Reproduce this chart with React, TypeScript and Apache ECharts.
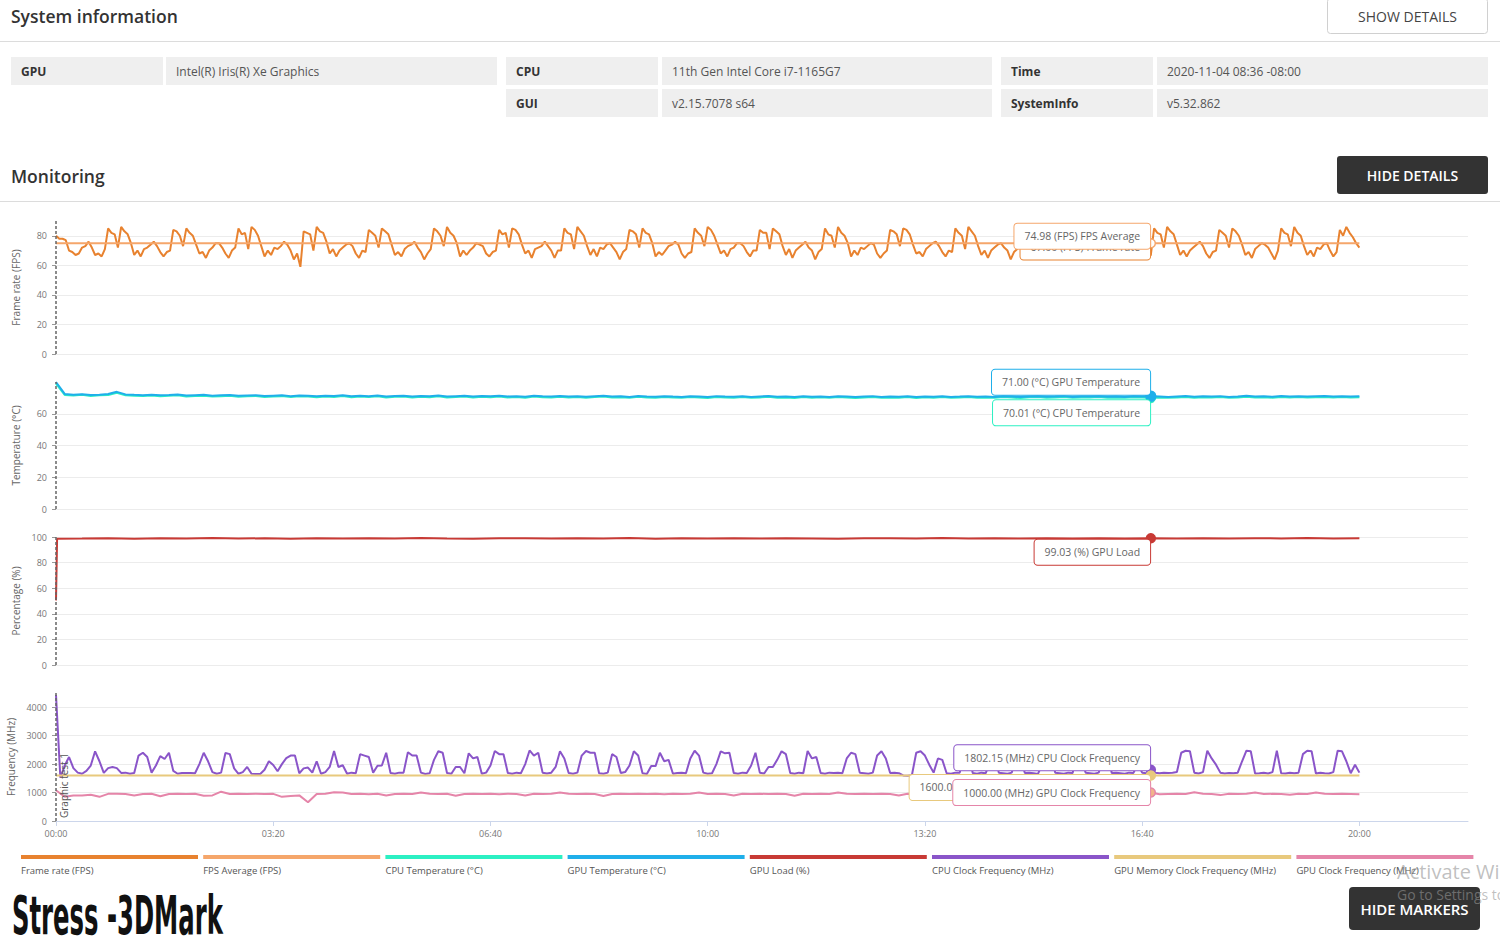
import React, { useEffect, useRef } from 'react';
import * as echarts from 'echarts';

// ---- recording layout -------------------------------------------------
const RUN_LENGTH = 1200; // seconds logged (00:00 - 20:00)
const AXIS_END = 1300;
const CURSOR_TIME = 1008; // time of the hover readout

const timeTicks = [0, 200, 400, 600, 800, 1000, 1200];
const fpsTicks = [0, 20, 40, 60, 80];
const tempTicks = [0, 20, 40, 60];
const pctTicks = [0, 20, 40, 60, 80, 100];
const freqTicks = [0, 1000, 2000, 3000, 4000];

// ---- Frame rate (FPS), one sample every 3 s -------------------------------
const FPS_STEP = 3;
const frameRate = [
  80, 78, 78, 77, 70, 69, 67, 68, 72, 73, 76, 72, 67, 68, 66,
  71, 85, 82, 81, 72, 86, 83, 81, 75, 67, 70, 66, 71, 72, 74, 76, 73, 69, 66, 69,
  70, 84, 83, 80, 73, 85, 82, 80, 74, 68, 69, 65, 70, 72, 75, 75, 72, 68, 65, 70,
  72, 85, 81, 82, 71, 86, 84, 80, 73, 66, 70, 67, 72, 71, 73, 76, 74, 70, 64, 68,
  59, 83, 82, 81, 70, 86, 83, 82, 76, 68, 71, 66, 70, 72, 74, 75, 73, 68, 65, 70,
  69, 84, 82, 80, 72, 85, 83, 81, 74, 67, 69, 66, 71, 73, 74, 76, 72, 69, 64, 68,
  71, 85, 83, 80, 73, 86, 82, 80, 75, 66, 70, 67, 70, 72, 75, 74, 73, 68, 66, 69,
  70, 84, 81, 82, 72, 85, 84, 81, 74, 68, 70, 65, 71, 72, 73, 76, 73, 70, 65, 70,
  70, 85, 82, 81, 71, 86, 83, 80, 73, 67, 71, 66, 72, 71, 74, 75, 72, 69, 64, 69,
  71, 84, 83, 81, 72, 85, 82, 81, 75, 66, 69, 67, 70, 73, 74, 76, 74, 68, 65, 68,
  69, 85, 82, 80, 73, 86, 84, 80, 74, 68, 70, 66, 71, 72, 75, 75, 73, 69, 66, 70,
  70, 84, 82, 82, 71, 85, 83, 81, 73, 67, 71, 65, 70, 72, 74, 76, 72, 70, 64, 69,
  71, 85, 81, 80, 72, 86, 82, 80, 75, 66, 70, 67, 72, 71, 73, 75, 74, 68, 65, 68,
  70, 84, 83, 81, 73, 85, 84, 81, 74, 68, 69, 66, 71, 73, 75, 76, 73, 69, 66, 70,
  69, 85, 82, 80, 71, 86, 83, 80, 73, 67, 70, 65, 70, 72, 74, 75, 72, 70, 64, 69,
  71, 84, 82, 82, 72, 85, 82, 81, 75, 66, 71, 67, 72, 71, 73, 76, 74, 68, 65, 68,
  70, 85, 83, 80, 73, 86, 84, 80, 74, 68, 69, 66, 71, 72, 75, 75, 73, 69, 65, 69,
  66,
  67, 85, 82, 81, 72, 86, 83, 81, 74, 67, 70, 66, 70, 72, 74, 76, 73, 68, 65, 69,
  70, 84, 82, 80, 72, 85, 83, 80, 74, 67, 69, 65, 71, 73, 75, 74, 72, 68, 64,
  70, 85, 82, 81, 73, 86, 82, 80, 73, 67, 70, 66, 72, 71, 74, 75, 70, 66,
  69, 84, 80, 86, 82, 79, 75, 72,
];
const fpsAverage = 74.98;

// ---- Temperatures (°C), one sample every 8 s ------------------------------
const TEMP_STEP = 8;
const gpuTemperature = [
  80, 72.5, 72, 72.3, 71.8, 72, 72.4, 73.8, 72.2, 71.9,
  71.7, 72, 71.6, 71.8, 72.1, 71.5, 71.7, 71.9, 71.4, 71.6,
  71.8, 71.3, 71.5, 71.7, 71.2, 71.4, 71.6, 71.1, 71.5, 71.3,
  71.0, 71.4, 71.2, 71.6, 71.0, 71.3, 71.1, 71.5, 70.9, 71.2,
  71.4, 70.8, 71.2, 71.0, 71.5, 70.9, 71.1, 71.3, 70.8, 71.2,
  71.0, 71.4, 70.9, 71.1, 70.7, 71.3, 71.0, 70.8, 71.2, 70.9,
  71.1, 70.7, 71.0, 71.3, 70.8, 71.0, 70.6, 71.2, 70.9, 70.7,
  71.1, 70.8, 70.6, 71.0, 70.9, 70.5, 71.1, 70.8, 70.7, 71.0,
  70.6, 70.9, 71.2, 70.7, 70.8, 70.5, 71.0, 70.7, 70.9, 70.6,
  71.0, 70.8, 70.5, 70.9, 71.1, 70.6, 70.8, 70.7, 71.0, 70.5,
  70.9, 70.7, 71.0, 70.6, 70.8, 71.1, 70.7, 70.9, 70.6, 71.0,
  70.8, 70.5, 70.9, 71.0, 70.7, 70.8, 71.1, 70.6, 70.9, 70.8,
  71.0, 70.7, 70.9, 70.6, 71.0, 70.8,
  71.0,
  70.8, 70.6, 70.9, 71.2, 70.7, 71.0, 70.8, 71.1, 70.6, 70.9,
  71.3, 70.8, 71.0, 70.7, 71.2, 70.9, 71.1, 70.8, 71.0, 71.2,
  70.9, 71.1, 70.8, 71.0,
];
const cpuTemperature = [
  79, 71.8, 71.5, 71.9, 71.2, 71.6, 71.8, 73.2, 71.6, 71.3,
  71.2, 71.5, 71.0, 71.3, 71.6, 70.9, 71.2, 71.4, 70.8, 71.1,
  71.3, 70.7, 71.0, 71.2, 70.6, 70.9, 71.1, 70.5, 71.0, 70.8,
  70.4, 70.9, 70.6, 71.1, 70.4, 70.8, 70.5, 71.0, 70.3, 70.7,
  70.9, 70.2, 70.7, 70.4, 71.0, 70.3, 70.6, 70.8, 70.2, 70.7,
  70.4, 70.9, 70.3, 70.6, 70.1, 70.8, 70.4, 70.2, 70.7, 70.3,
  70.6, 70.1, 70.5, 70.8, 70.2, 70.4, 70.0, 70.7, 70.3, 70.1,
  70.6, 70.2, 70.0, 70.5, 70.3, 69.9, 70.6, 70.2, 70.1, 70.5,
  70.0, 70.3, 70.7, 70.1, 70.2, 69.9, 70.5, 70.1, 70.4, 70.0,
  70.5, 70.2, 69.9, 70.3, 70.6, 70.0, 70.2, 70.1, 70.5, 69.9,
  70.4, 70.1, 70.5, 70.0, 70.2, 70.6, 70.1, 70.3, 70.0, 70.5,
  70.2, 69.9, 70.4, 70.5, 70.1, 70.2, 70.6, 70.0, 70.3, 70.2,
  70.5, 70.1, 70.3, 70.0, 70.4, 70.2,
  70.01,
  70.2, 70.0, 70.3, 70.6, 70.1, 70.4, 70.2, 70.5, 70.0, 70.3,
  70.7, 70.2, 70.4, 70.1, 70.6, 70.3, 70.5, 70.2, 70.4, 70.6,
  70.3, 70.5, 70.2, 70.4,
];

// ---- GPU Load (%) -----------------------------------------------------------
const gpuLoadRampTimes = [0, 1];
const gpuLoadRamp = [50.5, 98.6];
const LOAD_STEP = 24; // regular samples from 24 s on
const gpuLoad = [
  98.8, 99.1, 98.7, 99.0, 98.9, 99.2, 98.8, 99.0, 98.7, 99.1,
  98.9, 99.0, 98.8, 99.2, 98.9, 98.7, 99.0, 99.1, 98.8, 99.0,
  98.9, 99.2, 98.7, 99.0, 98.9, 99.1, 98.8, 99.0, 98.9, 98.7,
  99.1, 99.0, 98.8, 99.2, 98.9, 99.0, 98.8, 99.1, 98.9, 99.0,
  98.8, 99.03, 98.9, 99.1, 98.8, 99.0, 98.9, 99.2, 98.8, 99.0,
];

// ---- Clock frequencies (MHz) ----------------------------------------------
const CPU_CLOCK_STEP = 4;
const cpuClock = [
  4430, 1520, 1950, 2250, 1860, 1700, 1660, 1760, 1950, 2450,
  2100, 1690, 1860, 1900, 1860, 1690, 1700, 1660, 1690, 2300,
  2400, 2250, 1700, 1950, 2280, 2180, 2400, 1760, 1660, 1690,
  1690, 1690, 1680, 2000, 2400, 2100, 1720, 1660, 1700, 2390,
  2350, 1850, 1660, 1720, 1900, 1660, 1650, 1650, 1800, 2100,
  1970, 1750, 2000, 2210, 2300, 2300, 1680, 1850, 1880, 1700,
  2100, 1660, 1720, 1900, 2460, 1900, 1960, 1660,
  1700, 1680, 2350, 2300, 2250, 1700, 1940, 1950, 2400, 1690,
  1660, 1700, 1700, 2420, 2300, 2300, 1700, 1650, 1680, 2150,
  2450, 2400, 1690, 1660, 1900, 1900, 1680, 2380, 2200, 2250,
  1660, 1700, 1950, 2460, 2350, 2350, 1690, 1660, 1700, 1680,
  2000, 2480, 2300, 2400, 1700, 1670, 1700, 1900, 2450, 2200,
  1690, 1660, 1700, 2300, 2460, 2400, 2400, 1680, 1660, 1700,
  2350, 2250, 1690, 1720, 1950, 2450, 2300, 1680, 1650, 1930,
  1930, 2400, 2100, 2150, 1660, 1690, 1700, 1680, 2200, 2470,
  2300, 1700, 1660, 1680, 2000, 2450, 2380, 2400, 1690, 1660,
  1700, 1690, 1950, 2400, 1700, 1670, 1900, 1900, 2150, 2450,
  2350, 1690, 1660, 1700, 1680, 2460, 2200, 2250, 1690, 1660,
  1700, 1690,
  1700, 1680, 2200, 2400, 2350, 1700, 1680, 1660, 1700, 2300,
  2450, 2200, 1690, 1700, 1680, 1600, 1590, 1610, 2400, 2450,
  2300, 1980, 1700, 2200, 2150, 1680, 1660, 1700,
  1700, 2300, 2450, 1690, 1660, 1700, 1680, 2100, 2400, 1700,
  1680, 1660, 1700, 2350, 2200, 1690, 1700, 1680, 1650, 2000,
  2450, 2300, 1700, 1680, 1660, 1700, 1690, 2400, 2150, 1700,
  1680, 1660, 1700, 2250, 2450, 1690, 1700, 1680, 1660, 1700,
  1690, 2000, 1700, 1680,
  1802.15,
  1700, 1680, 1700, 1690, 1700, 1720, 2400, 2470, 2450, 1700,
  1670, 1720, 2470, 2200, 1980, 1700, 1670, 1690, 1680, 1700,
  2100, 2470, 2450, 1670, 1680, 1700, 1670, 1720, 2470, 1680,
  1670, 1700, 1680, 1700, 2350, 2470, 2450, 1670, 1700, 1680,
  1670, 1720, 2470, 2450, 2100, 1680, 1980, 1700,
];

const GPU_MEM_STEP = 48;
const gpuMemoryClock = [
  1600, 1600, 1600, 1600, 1600, 1600, 1600, 1600, 1600, 1600, 1600, 1600, 1600,
  1600, 1600, 1600, 1600, 1600, 1600, 1600, 1600, 1600, 1600, 1600, 1600, 1600,
];

const GPU_CLOCK_STEP = 8;
const gpuClock = [
  1080, 850, 900, 900, 920, 850, 955, 955, 950, 900,
  950, 955, 870, 950, 955, 950, 955, 890, 900, 1030,
  950, 955, 950, 955, 950, 955, 850, 880, 900, 660,
  950, 955, 1010, 1000,
  950, 955, 940, 955, 900, 950, 955, 950, 1000, 955,
  950, 955, 890, 950, 955, 950, 955, 940, 955, 950,
  900, 955, 950, 955, 1000, 955, 950, 955, 950, 880,
  950, 955, 950, 955, 950, 955, 940, 955, 950, 955,
  1000, 950, 955, 950, 900, 955, 950, 955, 950, 955,
  950, 890, 955, 950, 955, 950, 1000, 955, 950, 955,
  950, 955, 950, 900, 955, 950, 955, 950, 955, 950,
  955, 1000, 950, 955, 950, 880, 955, 950, 955, 950,
  955, 950, 955, 950, 1000, 955, 950, 955, 950, 955,
  950, 955,
  1000,
  940, 950, 955, 950, 1010, 955, 950, 910, 955, 950,
  955, 1000, 950, 955, 950, 920, 955, 950, 1000, 955,
  950, 955, 950, 940,
];

// ---- legend -----------------------------------------------------------------
const legendNames = [
  'Frame rate (FPS)', 'FPS Average (FPS)', 'CPU Temperature (°C)', 'GPU Temperature (°C)',
  'GPU Load (%)', 'CPU Clock Frequency (MHz)', 'GPU Memory Clock Frequency (MHz)', 'GPU Clock Frequency (MHz)',
];
const legendColors = ['#e8822f', '#f5a66b', '#2cf0c3', '#1fafea', '#c83a35', '#8a55c9', '#e8c97d', '#e585a9'];

const FONT = "'Open Sans', 'Noto Sans', sans-serif";

const toPairs = (vals: number[], step: number, start = 0) => vals.map((v, i) => [start + i * step, v]);
const sampleAt = (vals: number[], step: number, t: number, start = 0) => vals[Math.round((t - start) / step)];
const mmss = (v: number) =>
  `${String(Math.floor(v / 60)).padStart(2, '0')}:${String(Math.round(v % 60)).padStart(2, '0')}`;

// hover readout box anchored at the cursor
function readout(value: number, unit: string, label: string, color: string, dy: number, size: number, fill: string) {
  return {
    symbol: 'circle',
    symbolSize: size,
    silent: true,
    itemStyle: { color: fill, borderColor: color, borderWidth: 1.5 },
    label: {
      show: true,
      position: 'left',
      distance: 0,
      offset: [size / 2, dy],
      formatter: () => `${value.toFixed(2)} (${unit}) ${label}`,
      backgroundColor: '#fff',
      borderColor: color,
      borderWidth: 1,
      borderRadius: 3,
      padding: [6, 10, 6, 10],
      color: '#666',
      fontFamily: FONT,
      fontSize: 10.5,
      lineHeight: 13,
    },
    data: [{ coord: [CURSOR_TIME, value], value }],
  };
}

function startMarker(withLabel: boolean) {
  return {
    silent: true,
    symbol: ['none', 'none'],
    lineStyle: { color: '#666', type: [3, 2], width: 1.5 },
    label: withLabel
      ? { show: true, formatter: 'Graphic test 1', position: 'insideStartBottom', color: '#555', fontSize: 10, fontFamily: FONT, distance: 3 }
      : { show: false },
    data: [{ xAxis: 0 }],
  };
}

const panels = [
  { top: 221, height: 133, name: 'Frame rate (FPS)', max: 90, interval: 10, ticks: fpsTicks },
  { top: 382, height: 127, name: 'Temperature (°C)', max: 80, interval: 10, ticks: tempTicks },
  { top: 537, height: 128, name: 'Percentage (%)', max: 100, interval: 10, ticks: pctTicks },
  { top: 693, height: 128, name: 'Frequency (MHz)', max: 4500, interval: 500, ticks: freqTicks },
];

function buildOption() {
  const grid = panels.map((p) => ({ left: 56, right: 32, top: p.top, height: p.height, containLabel: false, outerBoundsMode: 'none' }));
  const xAxis = panels.map((_, i) => ({
    gridIndex: i,
    type: 'value',
    min: 0,
    max: AXIS_END,
    interval: 200,
    show: i === panels.length - 1,
    axisLine: { show: true, lineStyle: { color: '#ccd6eb' } },
    axisTick: { show: true, length: 5, customValues: timeTicks, lineStyle: { color: '#ccd6eb' } },
    axisLabel: { customValues: timeTicks, formatter: mmss, color: '#777', fontSize: 9, fontFamily: FONT, margin: 8 },
    splitLine: { show: false },
  }));
  const yAxis = panels.map((p, i) => ({
    gridIndex: i,
    type: 'value',
    min: 0,
    max: p.max,
    interval: p.interval,
    name: p.name,
    nameLocation: 'middle',
    nameGap: 35,
    nameTextStyle: { color: '#666', fontSize: 10, fontFamily: FONT },
    axisLine: { show: false },
    axisTick: { show: true, length: 4, customValues: p.ticks, lineStyle: { color: '#999' } },
    axisLabel: {
      customValues: p.ticks,
      formatter: (v: number) => String(v),
      color: '#777',
      fontSize: 9,
      fontFamily: FONT,
      margin: 9,
    },
    splitLine: { show: true, lineStyle: { color: '#ececec', width: 1 } },
  }));

  const line = (name: string, color: string, data: number[][], idx: number, width = 2) => ({
    type: 'line',
    name,
    xAxisIndex: idx,
    yAxisIndex: idx,
    data,
    symbol: 'none',
    silent: true,
    lineStyle: { color, width },
    itemStyle: { color },
  });

  const c = legendColors;
  const series: any[] = [
    {
      ...line('Frame rate', c[0], toPairs(frameRate, FPS_STEP), 0),
      markLine: startMarker(false),
      markPoint: readout(sampleAt(frameRate, FPS_STEP, CURSOR_TIME), 'FPS', 'Frame rate', c[0], -8, 0.1, c[0]),
    },
    {
      ...line('FPS Average', c[1], [[0, fpsAverage], [RUN_LENGTH, fpsAverage]], 0),
      markPoint: readout(fpsAverage, 'FPS', 'FPS Average', c[1], -7, 9, '#fff'),
    },
    {
      ...line('CPU Temperature', c[2], toPairs(cpuTemperature, TEMP_STEP), 1),
      markLine: startMarker(false),
      markPoint: readout(sampleAt(cpuTemperature, TEMP_STEP, CURSOR_TIME), '°C', 'CPU Temperature', c[2], 15, 9, c[2]),
    },
    {
      ...line('GPU Temperature', c[3], toPairs(gpuTemperature, TEMP_STEP), 1),
      markPoint: readout(sampleAt(gpuTemperature, TEMP_STEP, CURSOR_TIME), '°C', 'GPU Temperature', c[3], -14, 10, c[3]),
    },
    {
      ...line('GPU Load', c[4], [
        ...gpuLoadRampTimes.map((t, i) => [t, gpuLoadRamp[i]]),
        ...toPairs(gpuLoad, LOAD_STEP, LOAD_STEP),
      ], 2),
      markLine: startMarker(false),
      markPoint: readout(sampleAt(gpuLoad, LOAD_STEP, CURSOR_TIME, LOAD_STEP), '%', 'GPU Load', c[4], 14, 9, c[4]),
    },
    {
      ...line('CPU Clock Frequency', c[5], toPairs(cpuClock, CPU_CLOCK_STEP), 3),
      markLine: startMarker(true),
      markPoint: readout(sampleAt(cpuClock, CPU_CLOCK_STEP, CURSOR_TIME), 'MHz', 'CPU Clock Frequency', c[5], -12, 9, c[5]),
    },
    {
      ...line('GPU Memory Clock Frequency', c[6], toPairs(gpuMemoryClock, GPU_MEM_STEP), 3),
      markPoint: readout(sampleAt(gpuMemoryClock, GPU_MEM_STEP, CURSOR_TIME), 'MHz', 'GPU Memory Clock Frequency', c[6], 12, 9, c[6]),
    },
    {
      ...line('GPU Clock Frequency', c[7], toPairs(gpuClock, GPU_CLOCK_STEP), 3),
      markPoint: readout(sampleAt(gpuClock, GPU_CLOCK_STEP, CURSOR_TIME), 'MHz', 'GPU Clock Frequency', c[7], 0, 9, '#f2b48a'),
    },
  ];

  // page furniture: headings, info table, buttons, legend
  const txt = (text: string, x: number, y: number, font: string, fill: string, align = 'left', extra: any = {}) => ({
    type: 'text',
    x,
    y,
    silent: true,
    ...extra,
    style: { text, font, fill, align, verticalAlign: 'middle', textAlign: align, textVerticalAlign: 'middle' },
  });
  const rect = (x: number, y: number, width: number, height: number, fill: string, r = 0, stroke?: string) => ({
    type: 'rect',
    silent: true,
    shape: { x, y, width, height, r },
    style: stroke ? { fill, stroke, lineWidth: 1 } : { fill },
  });

  const infoCells = [
    { x: 11, w: 152, vx: 166, vw: 331, rows: [['GPU', 'Intel(R) Iris(R) Xe Graphics']] },
    { x: 506, w: 152, vx: 662, vw: 330, rows: [['CPU', '11th Gen Intel Core i7-1165G7'], ['GUI', 'v2.15.7078 s64']] },
    { x: 1001, w: 152, vx: 1157, vw: 331, rows: [['Time', '2020-11-04 08:36 -08:00'], ['SystemInfo', 'v5.32.862']] },
  ];
  const graphic: any[] = [
    txt('System information', 11, 16, `600 17.5px ${FONT}`, '#333'),
    { type: 'line', silent: true, shape: { x1: 0, y1: 41.5, x2: 1500, y2: 41.5 }, style: { stroke: '#dcdcdc', lineWidth: 1 } },
    rect(1327.5, -1.5, 160, 35, '#fff', 3, '#d0d0d0'),
    txt('SHOW DETAILS', 1407.5, 16, `14px ${FONT}`, '#444', 'center'),
    txt('Monitoring', 11, 176, `600 17.5px ${FONT}`, '#333'),
    rect(1337, 156, 151, 38, '#333', 3),
    txt('HIDE DETAILS', 1412.5, 175, `600 14px ${FONT}`, '#fff', 'center'),
    { type: 'line', silent: true, shape: { x1: 0, y1: 201.5, x2: 1500, y2: 201.5 }, style: { stroke: '#dcdcdc', lineWidth: 1 } },
  ];
  infoCells.forEach((col) => {
    col.rows.forEach(([k, v], r) => {
      const y = 57 + r * 32;
      graphic.push(rect(col.x, y, col.w, 28, '#efefef'));
      graphic.push(rect(col.vx, y, col.vw, 28, '#efefef'));
      graphic.push(txt(k, col.x + 10, y + 14, `bold 12px ${FONT}`, '#333'));
      graphic.push(txt(v, col.vx + 10, y + 14, `12px ${FONT}`, '#555'));
    });
  });
  legendNames.forEach((name, i) => {
    const x = 21 + i * 182.2;
    graphic.push(rect(x, 855, 177, 4, legendColors[i]));
    graphic.push(txt(name, x, 870, `9.5px ${FONT}`, '#555'));
  });
  graphic.push(
    txt('Stress -3DMark', 8, 915, `bold 54px 'Liberation Sans Narrow', 'DejaVu Sans Condensed', sans-serif`, '#111', 'left', {
      scaleX: 0.5,
      originX: 8,
      originY: 915,
    }),
  );
  graphic.push(rect(1349, 887, 131, 43, '#333', 4));
  graphic.push(txt('HIDE MARKERS', 1414.5, 909, `600 15px ${FONT}`, '#fff', 'center'));
  graphic.push(txt('Activate Windows', 1397, 871, `20px ${FONT}`, 'rgba(150,150,150,0.6)', 'left', { z: 200 }));
  graphic.push(txt('Go to Settings to activate Windows.', 1397, 894, `14px ${FONT}`, 'rgba(150,150,150,0.6)', 'left', { z: 200 }));

  return {
    animation: false,
    backgroundColor: '#fff',
    textStyle: { fontFamily: FONT },
    grid,
    xAxis,
    yAxis,
    series,
    graphic,
  };
}

export default function App() {
  const ref = useRef<HTMLDivElement>(null);
  useEffect(() => {
    if (!ref.current) return;
    const chart = echarts.init(ref.current, undefined, { renderer: 'svg' });
    chart.setOption(buildOption() as any);
    return () => chart.dispose();
  }, []);
  return <div ref={ref} style={{ position: 'absolute', left: 0, top: 0, width: 1500, height: 944 }} />;
}
